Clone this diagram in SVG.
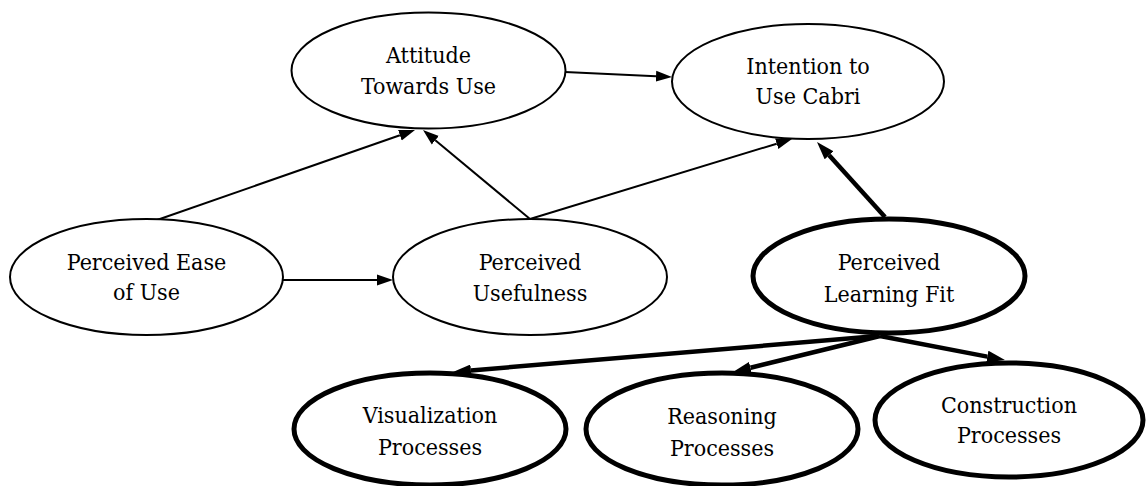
<svg xmlns="http://www.w3.org/2000/svg" width="1146" height="486" viewBox="0 0 1146 486">
<style>
.n{fill:#fff;stroke:#000;stroke-width:2}
.b{fill:#fff;stroke:#000;stroke-width:5}
text{font-family:"DejaVu Serif Condensed","DejaVu Serif","Liberation Serif",serif;font-stretch:condensed;font-size:23px;fill:#000;text-anchor:middle}
.c{stroke:#000;stroke-width:2;fill:none;marker-end:url(#a)}
.t{stroke:#000;stroke-width:4.5;fill:none;marker-end:url(#ab)}
</style>
<defs>
<marker id="a" markerUnits="userSpaceOnUse" markerWidth="16" markerHeight="12" refX="0" refY="6" orient="auto"><path d="M0,0.5 L16,6 L0,11.5 z" fill="#000"/></marker>
<marker id="ab" markerUnits="userSpaceOnUse" markerWidth="18" markerHeight="12" refX="0" refY="6" orient="auto"><path d="M0,0 L18,6 L0,12 z" fill="#000"/></marker>
</defs>
<g id="connectors">
<line class="c" x1="565" y1="72" x2="656" y2="76.2"/>
<line class="c" x1="283" y1="280" x2="377" y2="280"/>
<line class="c" x1="157" y1="220" x2="399.9" y2="135.3"/>
<line class="c" x1="530" y1="219" x2="435.3" y2="140.2"/>
<line class="c" x1="530" y1="219" x2="776.7" y2="143.7"/>
<line class="t" x1="885" y1="217" x2="829.1" y2="155.3"/>
<line class="t" x1="878" y1="336" x2="470.9" y2="370.5"/>
<line class="t" x1="880" y1="336" x2="750.5" y2="367.7"/>
<line class="t" x1="880" y1="336" x2="987.3" y2="356.6"/>
</g>
<g id="attitude"><ellipse class="n" cx="428.5" cy="70.5" rx="137" ry="58"/><text x="428.5" y="63">Attitude</text><text x="428.5" y="94">Towards Use</text></g>
<g id="intention"><ellipse class="n" cx="808" cy="81.5" rx="136" ry="57.5"/><text x="808" y="74">Intention to</text><text x="808" y="104">Use Cabri</text></g>
<g id="ease"><ellipse class="n" cx="146.5" cy="277" rx="136.5" ry="58"/><text x="146.5" y="270">Perceived Ease</text><text x="146.5" y="300">of Use</text></g>
<g id="usefulness"><ellipse class="n" cx="530" cy="277" rx="137" ry="58"/><text x="530" y="270">Perceived</text><text x="530" y="301">Usefulness</text></g>
<g id="learningfit"><ellipse class="b" cx="889" cy="276" rx="136" ry="57"/><text x="889" y="270">Perceived</text><text x="889" y="302">Learning Fit</text></g>
<g id="visualization"><ellipse class="b" cx="430" cy="429" rx="136" ry="56"/><text x="430" y="423">Visualization</text><text x="430" y="455">Processes</text></g>
<g id="reasoning"><ellipse class="b" cx="722" cy="429" rx="136" ry="56"/><text x="722" y="424">Reasoning</text><text x="722" y="456">Processes</text></g>
<g id="construction"><ellipse class="b" cx="1009" cy="420" rx="134" ry="57"/><text x="1009" y="413">Construction</text><text x="1009" y="443">Processes</text></g>
</svg>
